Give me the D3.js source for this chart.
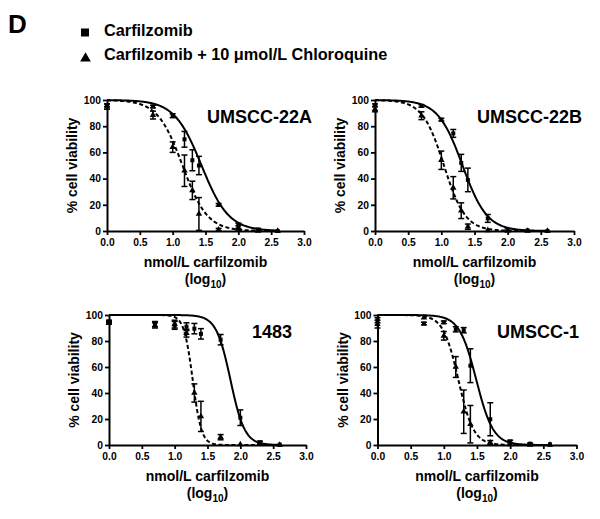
<!DOCTYPE html>
<html>
<head>
<meta charset="utf-8">
<script src="https://cdn.jsdelivr.net/npm/d3@7"></script>
<style>
  html, body { margin: 0; padding: 0; background: #fff; }
  svg { display: block; font-family: Arial, "Liberation Sans", sans-serif; }
  text { font-weight: bold; fill: #000; }
</style>
</head>
<body>
<svg id="chart" width="600" height="519"></svg>
<script>
// ---------------- DATA ----------------
const doses = [0, 0.7, 1.0, 1.18, 1.3, 1.4, 1.7, 2.0, 2.3, 2.6]; // log10 nmol/L
const cellLines = ["UMSCC-22A", "UMSCC-22B", "1483", "UMSCC-1"];
const seriesNames = ["Carfilzomib", "Carfilzomib + 10 \u03bcmol/L Chloroquine"];
const xTicks = [0, 0.5, 1.0, 1.5, 2.0, 2.5, 3.0];
const yTicks = [0, 20, 40, 60, 80, 100];

// Carfilzomib alone (squares, solid fit)
const carfMean = [
  [96, 95, 88, 70, 54, 50, 20, 4, 1, 0],
  [96, 95.5, 85, 74.5, 52, 39, 9.6, 0.8, 0.5, 0],
  [95, 93, 92, 91, 89.5, 85.5, 81, 21, 2, 0.3],
  [96, 93.4, 94.4, 89, 88.3, 61, 19.8, 2.7, 1, 0.5]
];
const carfErr = [
  [1, 1, 1.5, 6, 8, 7, 1, 2, 1, 0],
  [1, 1, 1, 3, 6.5, 9, 3, 1, 0, 0],
  [1, 2, 3, 3, 4, 4, 4, 6, 1, 0],
  [2, 1, 1, 2, 2, 13, 12.7, 1, 0.5, 0]
];
// Carfilzomib + chloroquine (triangles, dashed fit)
const comboMean = [
  [95, 88.5, 64, 46, 31, 13, 1, 2, 0, 0],
  [93, 88, 54, 33, 15.5, 3.3, 0.5, 0, 0, 0],
  [94, 92, 93, 86, 40, 22, 6, 0.5, 1, 0],
  [93, 98, 84, 60, 25.6, 16, 1.9, 0.5, 0, 0]
];
const comboErr = [
  [2, 3, 4, 12, 7, 12.5, 1, 2, 0, 0],
  [2, 3, 7, 8.5, 6, 2, 0, 0, 0, 0],
  [1, 2, 3, 3, 7, 11.6, 2, 0, 0, 0],
  [3, 0, 3.3, 8, 16.7, 14.4, 1.5, 0, 0, 0]
];
// Fitted sigmoidal dose-response parameters (top 100, bottom 0)
const carfLogIC50 = [1.44, 1.32, 1.85, 1.49];
const carfHill = [2.1, 2.35, 4.0, 3.4];
const comboLogIC50 = [1.15, 1.04, 1.275, 1.22];
const comboHill = [2.3, 2.7, 6.5, 3.8];
const curveEnd = 2.6;

// ---------------- LAYOUT ----------------
const panels = [
  { left: 107,   top: 100, w: 197, h: 131, titleX: 207, titleY: 123 },
  { left: 375,   top: 100, w: 199, h: 131, titleX: 477, titleY: 123 },
  { left: 109,   top: 315, w: 197, h: 130, titleX: 252, titleY: 338 },
  { left: 377.5, top: 315, w: 199, h: 130, titleX: 497, titleY: 338 }
];

const svg = d3.select("#chart");

// Panel letter
svg.append("text").attr("x", 8).attr("y", 33).attr("font-size", 26).text("D");

// Legend
const lg = svg.append("g");
lg.append("path")
  .attr("d", d3.symbol(d3.symbolSquare, 64)())
  .attr("transform", "translate(85,32.5)");
lg.append("path")
  .attr("d", d3.symbol(d3.symbolTriangle, 50)())
  .attr("transform", "translate(85.5,58.5)");
lg.append("text").attr("x", 104).attr("y", 36).attr("font-size", 16.3).text(seriesNames[0]);
lg.append("text").attr("x", 104).attr("y", 60).attr("font-size", 16.3).text(seriesNames[1]);

function fourPL(x, c, h) { return 100 / (1 + Math.pow(10, (x - c) * h)); }

cellLines.forEach((name, i) => {
  const p = panels[i];
  const g = svg.append("g").attr("transform", `translate(${p.left},${p.top})`);
  const x = d3.scaleLinear().domain([0, 3]).range([0, p.w]);
  const y = d3.scaleLinear().domain([0, 100]).range([p.h, 0]);

  // axes
  const xa = g.append("g").attr("transform", `translate(0,${p.h})`)
    .call(d3.axisBottom(x).tickValues(xTicks).tickFormat(d3.format(".1f")).tickSize(4).tickSizeOuter(0).tickPadding(4));
  const ya = g.append("g")
    .call(d3.axisLeft(y).tickValues(yTicks).tickSize(4).tickSizeOuter(0).tickPadding(2));
  [xa, ya].forEach(a => {
    a.select(".domain").attr("stroke", "#000").attr("stroke-width", 2);
    a.selectAll(".tick line").attr("stroke", "#000").attr("stroke-width", 1.8);
    a.selectAll(".tick text").attr("font-size", 10.3).attr("font-weight", "bold")
      .attr("font-family", "Arial, 'Liberation Sans', sans-serif").attr("fill", "#000");
  });

  // fitted curves
  const xs = d3.range(0, curveEnd + 0.0001, 0.01);
  const line = d3.line().x(d => x(d[0])).y(d => y(d[1]));
  g.append("path")
    .datum(xs.map(v => [v, fourPL(v, carfLogIC50[i], carfHill[i])]))
    .attr("d", line).attr("fill", "none").attr("stroke", "#000").attr("stroke-width", 2);
  g.append("path")
    .datum(xs.map(v => [v, fourPL(v, comboLogIC50[i], comboHill[i])]))
    .attr("d", line).attr("fill", "none").attr("stroke", "#000").attr("stroke-width", 2)
    .attr("stroke-dasharray", "4,2.5");

  // error bars + markers
  const drawSeries = (means, errs, symbolType, size) => {
    doses.forEach((dv, k) => {
      const m = means[k], e = errs[k];
      const cx = x(dv);
      if (e > 0) {
        g.append("line").attr("x1", cx).attr("x2", cx)
          .attr("y1", y(m - e)).attr("y2", y(m + e))
          .attr("stroke", "#000").attr("stroke-width", 1.5);
        [m - e, m + e].forEach(v => {
          g.append("line").attr("x1", cx - 3).attr("x2", cx + 3)
            .attr("y1", y(v)).attr("y2", y(v))
            .attr("stroke", "#000").attr("stroke-width", 1.5);
        });
      }
      g.append("path").attr("d", d3.symbol(symbolType, size)())
        .attr("transform", `translate(${cx},${y(m)})`).attr("fill", "#000");
    });
  };
  drawSeries(carfMean[i], carfErr[i], d3.symbolSquare, 16);
  drawSeries(comboMean[i], comboErr[i], d3.symbolTriangle, 18);

  // labels
  svg.append("text").attr("x", p.titleX).attr("y", p.titleY).attr("font-size", 18).text(name);

  svg.append("text")
    .attr("transform", `translate(${p.left - 30},${p.top + p.h / 2}) rotate(-90)`)
    .attr("text-anchor", "middle").attr("font-size", 14).text("% cell viability");

  svg.append("text")
    .attr("x", p.left + p.w / 2).attr("y", p.top + p.h + 36)
    .attr("text-anchor", "middle").attr("font-size", 14).text("nmol/L carfilzomib");

  const lt = svg.append("text")
    .attr("x", p.left + p.w / 2).attr("y", p.top + p.h + 53)
    .attr("text-anchor", "middle").attr("font-size", 14);
  lt.append("tspan").text("(log");
  lt.append("tspan").attr("font-size", 10).attr("dy", 4).text("10");
  lt.append("tspan").attr("dy", -4).text(")");
});
</script>
</body>
</html>
